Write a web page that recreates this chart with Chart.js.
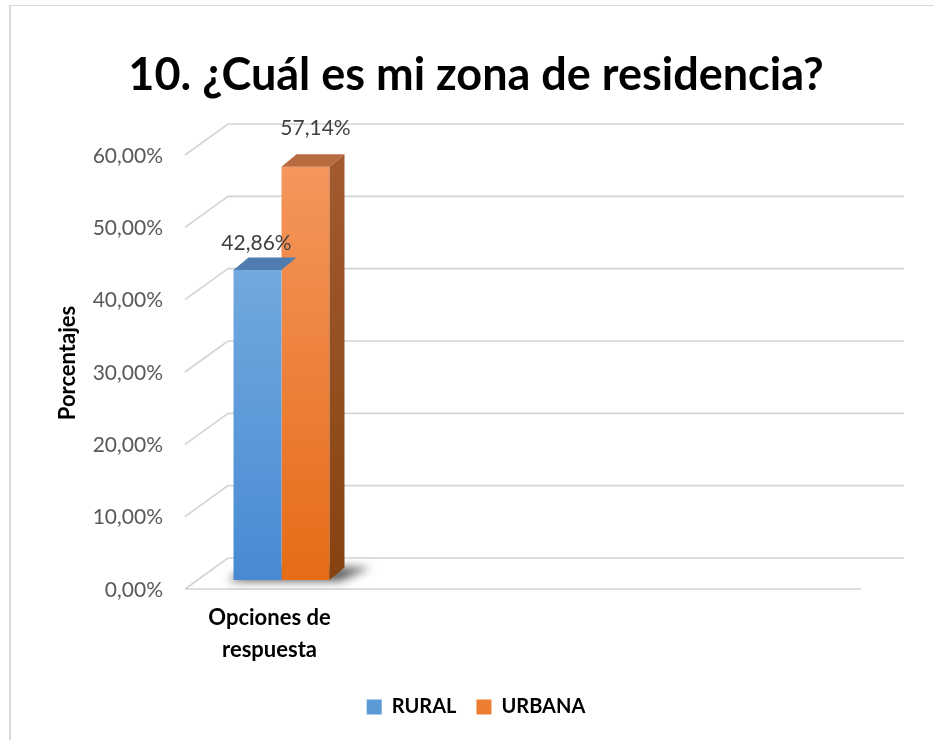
<!DOCTYPE html>
<html>
<head>
<meta charset="utf-8">
<script src="https://cdn.jsdelivr.net/npm/chart.js@4.4.0/dist/chart.umd.min.js"></script>
<style>
    html, body { margin: 0; padding: 0; background: #fff; overflow: hidden; }
    #wrap { position: relative; width: 934px; height: 740px; }
    #frame { position: absolute; left: 9px; top: 5px; right: -10px; bottom: -10px;
             border-top: 1px solid #d9d9d9; border-left: 2px solid #d9d9d9; pointer-events: none; }
    canvas { position: absolute; left: 0; top: 0; }
</style>
</head>
<body>
<div id="wrap">
    <canvas id="chart" width="934" height="740"></canvas>
    <div id="frame"></div>
</div>
<script>
// Data
const categories = [['Opciones de', 'respuesta'], '', '', ''];
const seriesNames = ['RURAL', 'URBANA'];
const ruralValues = [42.86, null, null, null];
const urbanaValues = [57.14, null, null, null];
const yTicks = [0, 10, 20, 30, 40, 50, 60];

// Styling
const font = 'Lato, "Open Sans", sans-serif';
const faceColors = [
    { top: '#72a9de', bottom: '#478ad3', cap: '#4f7db0', side: ['#3f6d9c', '#2f5a86'], legend: '#5b9bd5' },
    { top: '#f5965d', bottom: '#e56c17', cap: '#b86b3f', side: ['#a25a2e', '#884210'], legend: '#ed7d31' }
];
const depth = { dx: 15, dy: -12.5 };      // bar depth
const frontShift = { dx: -12, dy: 9 };    // front edge of floor
const backShift = { dx: 31, dy: -22 };    // back wall
const labelShift = [{ dx: -1, dy: -27 }, { dx: 10, dy: -38 }];

const fmt = v => v.toFixed(2).replace('.', ',') + '%';

function frontFill(i) {
    return ctx => {
        const chart = ctx.chart;
        if (!chart.chartArea || ctx.raw == null) return faceColors[i].bottom;
        const y = chart.scales.y;
        const g = chart.ctx.createLinearGradient(0, y.getPixelForValue(ctx.raw), 0, y.getPixelForValue(0));
        g.addColorStop(0, faceColors[i].top);
        g.addColorStop(1, faceColors[i].bottom);
        return g;
    };
}

const wall3d = {
    id: 'wall3d',
    beforeDatasetsDraw(chart) {
        const { ctx, chartArea: a, scales: { y } } = chart;
        ctx.save();
        ctx.strokeStyle = '#d4d4d4';
        ctx.lineWidth = 1.7;
        yTicks.forEach(v => {
            const py = y.getPixelForValue(v);
            ctx.beginPath();
            ctx.moveTo(a.left + frontShift.dx, py + frontShift.dy);
            ctx.lineTo(a.left + backShift.dx, py + backShift.dy);
            ctx.lineTo(a.right + backShift.dx, py + backShift.dy);
            if (v === 0) {
                ctx.moveTo(a.left + frontShift.dx, py + frontShift.dy);
                ctx.lineTo(a.right + frontShift.dx, py + frontShift.dy);
            }
            ctx.stroke();
        });

        // soft shadow under the bar group
        const bars = chart.data.datasets.map((d, i) => chart.getDatasetMeta(i).data[0]);
        const minX = bars[0].x - bars[0].width / 2;
        const maxX = bars[bars.length - 1].x + bars[bars.length - 1].width / 2;
        const base = y.getPixelForValue(0);
        ctx.filter = 'blur(5px)';
        ctx.fillStyle = 'rgba(0,0,0,0.65)';
        ctx.beginPath();
        ctx.moveTo(minX - 6, base + 1);
        ctx.lineTo(maxX + 10, base + 1);
        ctx.lineTo(maxX + depth.dx + 26, base + depth.dy);
        ctx.lineTo(minX + depth.dx, base + depth.dy);
        ctx.closePath();
        ctx.fill();
        ctx.restore();
    },
    afterDatasetsDraw(chart) {
        const { ctx } = chart;
        const n = chart.data.datasets.length;
        ctx.save();
        chart.data.datasets.forEach((ds, i) => {
            chart.getDatasetMeta(i).data.forEach((bar, j) => {
                const v = ds.data[j];
                if (v == null) return;
                const x0 = bar.x - bar.width / 2, x1 = bar.x + bar.width / 2;
                const top = bar.y, base = bar.base;
                // top face
                ctx.fillStyle = faceColors[i].cap;
                ctx.beginPath();
                ctx.moveTo(x0, top);
                ctx.lineTo(x0 + depth.dx, top + depth.dy);
                ctx.lineTo(x1 + depth.dx, top + depth.dy);
                ctx.lineTo(x1, top);
                ctx.closePath();
                ctx.fill();
                // side face, only visible on the last bar of the group
                if (i === n - 1) {
                    const g = ctx.createLinearGradient(0, top, 0, base);
                    g.addColorStop(0, faceColors[i].side[0]);
                    g.addColorStop(1, faceColors[i].side[1]);
                    ctx.fillStyle = g;
                    ctx.beginPath();
                    ctx.moveTo(x1, top);
                    ctx.lineTo(x1 + depth.dx, top + depth.dy);
                    ctx.lineTo(x1 + depth.dx, base + depth.dy);
                    ctx.lineTo(x1, base);
                    ctx.closePath();
                    ctx.fill();
                }
                // value label
                ctx.fillStyle = '#404040';
                ctx.font = '21px ' + font;
                ctx.textAlign = 'center';
                ctx.textBaseline = 'middle';
                ctx.fillText(fmt(v), bar.x + labelShift[i].dx, top + labelShift[i].dy);
            });
        });
        ctx.restore();
    }
};

new Chart(document.getElementById('chart'), {
    type: 'bar',
    data: {
        labels: categories,
        datasets: [
            { label: seriesNames[0], data: ruralValues, backgroundColor: frontFill(0) },
            { label: seriesNames[1], data: urbanaValues, backgroundColor: frontFill(1) }
        ]
    },
    options: {
        responsive: false,
        animation: false,
        devicePixelRatio: 1,
        layout: { padding: { top: 0, left: 18, right: 0, bottom: 13 } },
        datasets: { bar: { categoryPercentage: 0.568, barPercentage: 1, borderWidth: 0 } },
        plugins: {
            title: {
                display: true,
                text: '10. ¿Cuál es mi zona de residencia?',
                color: '#000',
                font: { family: font, size: 45, weight: 'bold', lineHeight: 1.2 },
                padding: { top: 48, bottom: 44 }
            },
            legend: {
                position: 'bottom',
                labels: {
                    color: '#000',
                    font: { family: font, size: 20, weight: 'bold' },
                    boxWidth: 15,
                    boxHeight: 15,
                    padding: 20,
                    generateLabels: chart => chart.data.datasets.map((ds, i) => ({
                        text: ds.label,
                        fillStyle: faceColors[i].legend,
                        strokeStyle: faceColors[i].legend,
                        lineWidth: 0,
                        hidden: false,
                        datasetIndex: i
                    }))
                }
            },
            tooltip: { enabled: false }
        },
        scales: {
            x: {
                grid: { display: false, drawTicks: false },
                border: { display: false },
                ticks: {
                    color: '#000',
                    font: { family: font, size: 22, weight: 'bold', lineHeight: 1.45 },
                    padding: 22,
                    labelOffset: frontShift.dx,
                    maxRotation: 0
                },
                afterFit: s => { s.height = 97; }
            },
            y: {
                min: 0,
                max: 60,
                grid: { display: false, drawTicks: false },
                border: { display: false },
                ticks: {
                    stepSize: 10,
                    color: '#595959',
                    font: { family: font, size: 21 },
                    padding: 34,
                    labelOffset: 10,
                    callback: v => fmt(v)
                },
                title: {
                    display: true,
                    text: 'Porcentajes',
                    color: '#000',
                    font: { family: font, size: 22, weight: 'bold', lineHeight: 1.2 },
                    padding: { top: 37, bottom: 0 }
                },
                afterFit: s => { s.width = 179; }
            },
            // empty right-hand spacer so the plot ends where the reference does
            yRight: {
                position: 'right',
                grid: { display: false, drawTicks: false },
                border: { display: false },
                ticks: { display: false },
                afterFit: s => { s.width = 61; }
            }
        }
    },
    plugins: [wall3d]
});
</script>
</body>
</html>
